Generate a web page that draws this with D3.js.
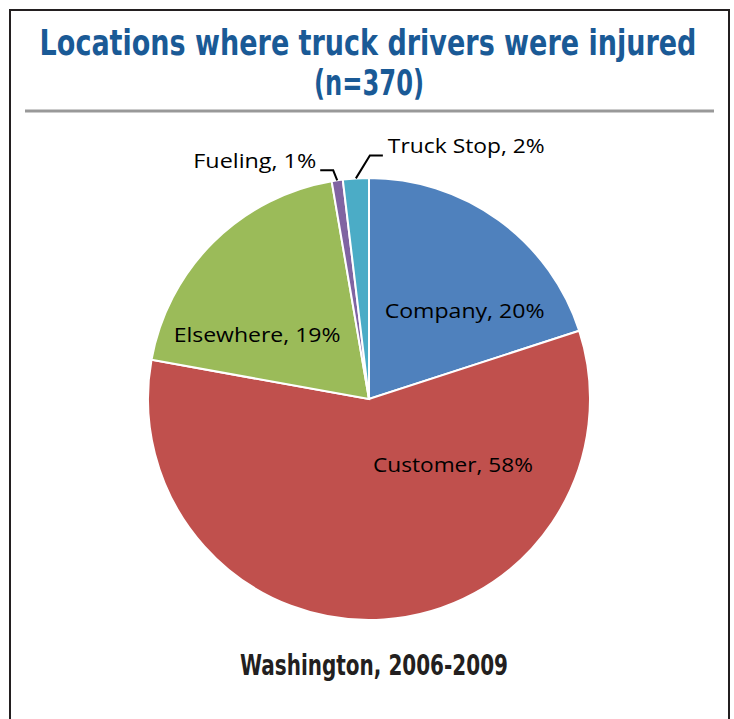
<!DOCTYPE html>
<html lang="en">
<head>
<meta charset="UTF-8">
<title>Locations where truck drivers were injured</title>
<script src="https://cdn.jsdelivr.net/npm/d3@7/dist/d3.min.js"></script>
<style>
  body { margin: 0; background: #fff; }
</style>
</head>
<body>
<script>
  const w = 734, h = 719;

  // data (counts out of n=370), clockwise from 12 o'clock
  const categories = ['Company', 'Customer', 'Elsewhere', 'Fueling', 'Truck Stop'];
  const counts = [74, 214, 72, 3, 7];
  const percents = ['20%', '58%', '19%', '1%', '2%'];
  const colors = ['#4f81bd', '#c0504d', '#9bbb59', '#8064a2', '#4bacc6'];

  const cx = 369, cy = 399, r = 221;

  const svg = d3.select('body').append('svg')
    .attr('width', w).attr('height', h);

  // frame
  svg.append('rect')
    .attr('x', 10).attr('y', 10)
    .attr('width', 719).attr('height', 730)
    .attr('fill', 'none')
    .attr('stroke', '#231f20')
    .attr('stroke-width', 2);

  const condensed = '"Liberation Sans Narrow", "DejaVu Sans Condensed", "Roboto", sans-serif';

  // squeeze text horizontally to a given width, centred/anchored at x
  function fitText(sel, x, y, width, anchor) {
    const len = sel.node().getComputedTextLength();
    const sx = width / len;
    sel.attr('x', 0).attr('y', 0)
      .attr('text-anchor', anchor || 'middle')
      .attr('transform', `translate(${x},${y}) scale(${sx},1)`);
  }

  svg.append('text')
    .attr('font-family', condensed).attr('font-weight', 'bold')
    .attr('font-size', 36).attr('fill', '#1a5a96')
    .text('Locations where truck drivers were injured')
    .call(fitText, 368, 55, 657);
  svg.append('text')
    .attr('font-family', condensed).attr('font-weight', 'bold')
    .attr('font-size', 36).attr('fill', '#1a5a96')
    .text('(n=370)')
    .call(fitText, 369, 95, 110);

  svg.append('line')
    .attr('x1', 25).attr('x2', 714)
    .attr('y1', 111).attr('y2', 111)
    .attr('stroke', '#999').attr('stroke-width', 3);

  // pie
  const pie = d3.pie().sort(null).value(d => d);
  const arcs = pie(counts);
  const arc = d3.arc().innerRadius(0).outerRadius(r);

  const g = svg.append('g').attr('transform', `translate(${cx},${cy})`);

  g.selectAll('path')
    .data(arcs)
    .enter()
    .append('path')
    .attr('d', arc)
    .attr('fill', (d, i) => colors[i])
    .attr('stroke', '#fff')
    .attr('stroke-width', 2);

  // label placement nudges (inside labels relative to centroid, outside ones via leader)
  const labelArc = d3.arc().innerRadius(132).outerRadius(132);
  const edgeArc = d3.arc().innerRadius(r).outerRadius(r);
  const inside = [true, true, true, false, false];
  const nudges = [[18, 19], [75, -66], [-19, 30], [0, 0], [0, 0]];
  const elbows = [null, null, null, [-4, -10], [14, -23]];
  const widths = [160, 160, 167, 123, 157];

  const font = '"Open Sans", "Liberation Sans", sans-serif';

  arcs.forEach((d, i) => {
    const label = categories[i] + ', ' + percents[i];
    const t = g.append('text')
      .attr('font-family', font).attr('font-size', 20)
      .attr('fill', '#000')
      .text(label);
    if (inside[i]) {
      const c = labelArc.centroid(d);
      t.attr('dy', '0.35em')
        .call(fitText, c[0] + nudges[i][0], c[1] + nudges[i][1], widths[i]);
    } else {
      const p = edgeArc.centroid(d);
      const e = [p[0] + elbows[i][0], p[1] + elbows[i][1]];
      const left = i === 3;
      const end = [e[0] + (left ? -13 : 13), e[1]];
      g.append('polyline')
        .attr('points', [p, e, end].map(q => q.join(',')).join(' '))
        .attr('fill', 'none')
        .attr('stroke', '#000')
        .attr('stroke-width', 2);
      t.call(fitText, end[0] + (left ? -4 : 5), end[1] - 2, widths[i], left ? 'end' : 'start');
    }
  });

  // footer
  svg.append('text')
    .attr('font-family', condensed).attr('font-weight', 'bold')
    .attr('font-size', 29).attr('fill', '#231f20')
    .text('Washington, 2006-2009')
    .call(fitText, 374, 675, 268);
</script>
</body>
</html>
